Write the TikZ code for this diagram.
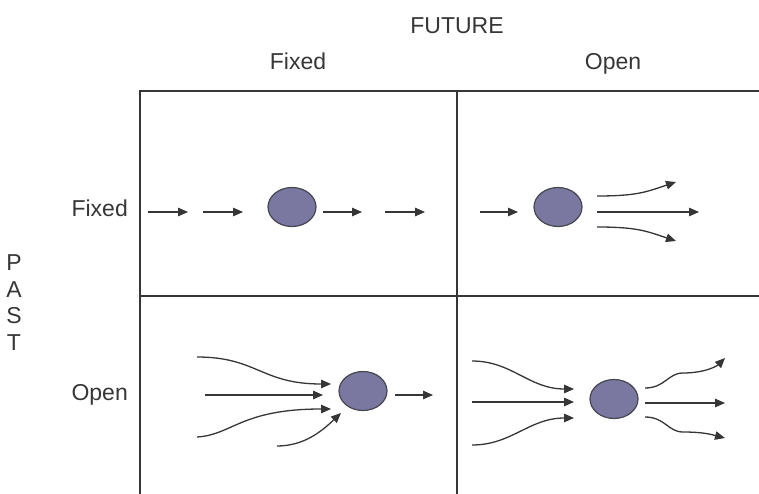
\documentclass[tikz,border=0pt]{standalone}
\usepackage{fontspec}
\setmainfont{Liberation Sans}
\usetikzlibrary{arrows.meta,shapes.geometric}
\definecolor{ink}{HTML}{363636}
\definecolor{ballfill}{RGB}{122,120,160}
\definecolor{ballrim}{HTML}{464650}

\begin{document}
\begin{tikzpicture}[x=1pt,y=-1pt,
  flow/.style={draw=ink, line width=1.3pt, -{Triangle[length=10pt,width=8.5pt]}},
  ball/.style={ellipse, draw=ballrim, line width=1.2pt, fill=ballfill,
               minimum width=48pt, minimum height=39pt, inner sep=0pt},
  lbl/.style={text=ink, font=\fontsize{23}{27}\selectfont, inner sep=0pt, anchor=base},
  heavy/.style={draw=ink, line width=2.5pt},
  light/.style={draw=ink, line width=1.4pt}]
\useasboundingbox (0,0) rectangle (759,494);

% headings
\node[lbl] (future) at (457,34) {FUTURE};
\node[lbl] (fixedF) at (298,70) {Fixed};
\node[lbl] (openF)  at (613,70) {Open};
\node[lbl, anchor=base east] (fixedP) at (128,216) {Fixed};
\node[lbl, anchor=base east] (openP)  at (128,400) {Open};
\node[lbl] (pP) at (14,270) {P};
\node[lbl] (pA) at (14,297) {A};
\node[lbl] (pS) at (14,323) {S};
\node[lbl] (pT) at (14,350) {T};

% grid
\coordinate (tl) at (140,91);
\coordinate (tr) at (759,91);
\coordinate (bl) at (140,494);
\coordinate (tm) at (457,91);
\coordinate (bm) at (457,494);
\coordinate (ml) at (140,296);
\coordinate (mr) at (759,296);
\draw[light] (tm) -- (bm);
\draw[light] (ml) -- (mr);
\draw[heavy] (tr) -- (tl) -- (bl);

% balls
\node[ball] (b1) at (292,207) {};
\node[ball] (b2) at (558,207) {};
\node[ball] (b3) at (363,391) {};
\node[ball] (b4) at (614,399) {};

% fixed past, fixed future
\coordinate (a1s) at (148,212); \coordinate (a1e) at (188,212);
\coordinate (a2s) at (203,212); \coordinate (a2e) at (243,212);
\coordinate (a3s) at (323,212); \coordinate (a3e) at (362,212);
\coordinate (a4s) at (385,212); \coordinate (a4e) at (425,212);
\draw[flow] (a1s) -- (a1e);
\draw[flow] (a2s) -- (a2e);
\draw[flow] (a3s) -- (a3e);
\draw[flow] (a4s) -- (a4e);

% fixed past, open future
\coordinate (i2s) at (480,212); \coordinate (i2e) at (518,212);
\coordinate (o2ms) at (597,212); \coordinate (o2me) at (699,212);
\coordinate (o2ts) at (597,196); \coordinate (o2te) at (676,182);
\coordinate (o2bs) at (597,227); \coordinate (o2be) at (676,241);
\draw[flow] (i2s) -- (i2e);
\draw[flow] (o2ms) -- (o2me);
\draw[flow] (o2ts) .. controls +(40,0) and +(-30,10) .. (o2te);
\draw[flow] (o2bs) .. controls +(40,0) and +(-30,-10) .. (o2be);

% open past, fixed future
\coordinate (i3ts) at (197,357); \coordinate (i3te) at (331,384);
\coordinate (i3ms) at (205,395); \coordinate (i3me) at (323,395);
\coordinate (i3bs) at (197,437); \coordinate (i3be) at (331,409);
\coordinate (i3ss) at (277,446); \coordinate (i3se) at (341,413);
\coordinate (o3s) at (395,395);  \coordinate (o3e) at (433,395);
\draw[flow] (i3ts) .. controls +(60,0) and +(-70,0) .. (i3te);
\draw[flow] (i3ms) -- (i3me);
\draw[flow] (i3bs) .. controls +(35,-2) and +(-90,0) .. (i3be);
\draw[flow] (i3ss) .. controls +(28,0) and +(-18,17) .. (i3se);
\draw[flow] (o3s) -- (o3e);

% open past, open future
\coordinate (i4ts) at (472,361); \coordinate (i4te) at (574,389);
\coordinate (i4ms) at (472,402); \coordinate (i4me) at (574,402);
\coordinate (i4bs) at (472,445); \coordinate (i4be) at (574,418);
\coordinate (o4ts) at (645,388); \coordinate (o4tm) at (683,373); \coordinate (o4te) at (725,358);
\coordinate (o4ms) at (645,403); \coordinate (o4me) at (725,403);
\coordinate (o4bs) at (645,417); \coordinate (o4bm) at (683,432); \coordinate (o4be) at (725,438);
\draw[flow] (i4ts) .. controls +(40,0) and +(-45,0) .. (i4te);
\draw[flow] (i4ms) -- (i4me);
\draw[flow] (i4bs) .. controls +(40,0) and +(-45,0) .. (i4be);
\draw[flow] (o4ts) .. controls +(20,0) and +(-15,0) .. (o4tm)
                   .. controls +(22,0) and +(-8,8) .. (o4te);
\draw[flow] (o4ms) -- (o4me);
\draw[flow] (o4bs) .. controls +(20,0) and +(-15,0) .. (o4bm)
                   .. controls +(22,0) and +(-12,-3) .. (o4be);
\end{tikzpicture}
\end{document}
